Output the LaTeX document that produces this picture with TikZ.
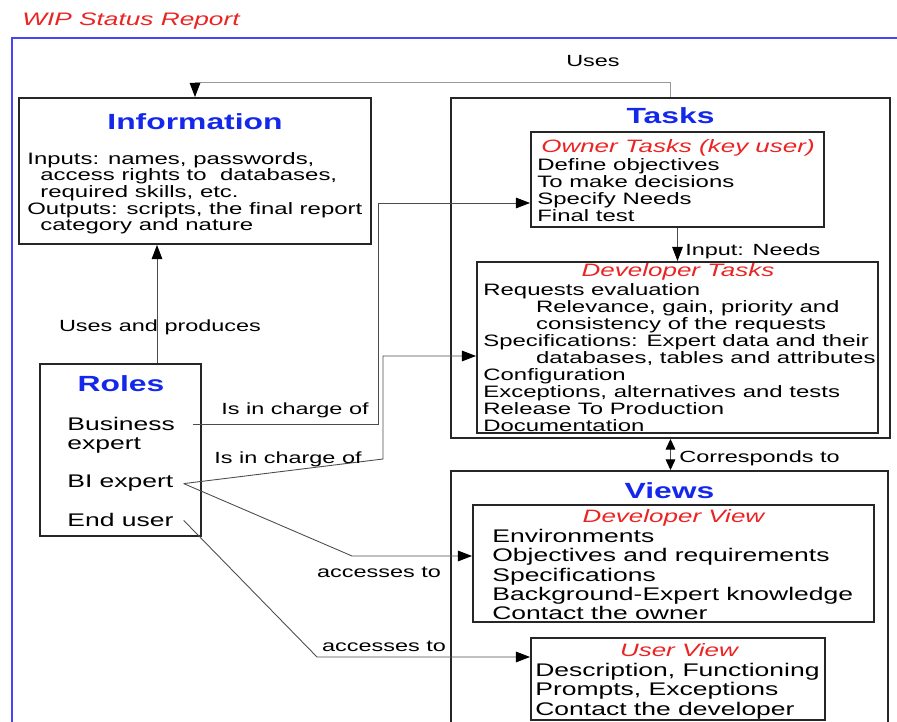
\documentclass[tikz,border=0pt]{standalone}
\usepackage{fontspec}
\setmainfont{Liberation Sans}[FakeStretch=1.45]
\usetikzlibrary{arrows.meta,positioning,fit,calc}

\definecolor{wipred}{RGB}{235,35,35}
\definecolor{headblue}{RGB}{20,40,235}
\definecolor{frameblue}{RGB}{70,70,245}

\begin{document}
\begin{tikzpicture}[
    x=0.02cm, y=-0.02cm,
    box/.style={draw=black!85, line width=1.1pt, inner sep=0pt},
    heading/.style={font=\fontsize{12.5}{14}\selectfont\bfseries, text=headblue, anchor=base, inner sep=0pt},
    subhead/.style={font=\fontsize{10.2}{12}\selectfont\itshape, text=wipred, anchor=base, inner sep=0pt},
    body/.style={font=\fontsize{9.4}{9.7}\selectfont, align=left, anchor=north west, inner sep=0pt},
    bigbody/.style={font=\fontsize{10.4}{10.95}\selectfont, align=left, anchor=north west, inner sep=0pt},
    linklabel/.style={font=\fontsize{9.2}{11}\selectfont, anchor=base, inner sep=0pt},
    edge/.style={draw=black!70, line width=0.5pt, -{Triangle[length=8pt, width=6pt, color=black]}},
]
\useasboundingbox (0,0) rectangle (897,722);

% Title and frame
\node[font=\fontsize{10.3}{12}\selectfont\itshape, text=wipred, anchor=base west, inner sep=0pt] (title) at (22,26) {WIP Status Report};
\draw[frameblue, line width=0.9pt] (12,38) rectangle (910,735);

% Information
\node[box, fit={(19,98) (371,244)}] (info) {};
\node[heading] (infohead) at (195,130) {Information};
\node[body, font=\fontsize{9.4}{9.45}\selectfont] (infotext) at (27,152) {Inputs: names, passwords,\\
  \hspace*{7.4pt}access rights to\ \ databases,\\
  \hspace*{7.4pt}required skills, etc.\\
  Outputs: scripts, the final report\\
  \hspace*{7.4pt}category and nature};

% Tasks
\node[box, fit={(451,98) (890,438)}] (tasks) {};
\node[heading] (taskshead) at (670.5,124) {Tasks};
\node[box, fit={(531,132) (824,227)}] (owner) {};
\node[subhead] (ownerhead) at (678,153) {Owner Tasks (key user)};
\node[body] (ownertext) at (537,158) {Define objectives\\To make decisions\\Specify Needs\\Final test};
\node[box, fit={(477,262) (878,433)}] (dtasks) {};
\node[subhead] (dtaskshead) at (678,277) {Developer Tasks};
\node[body] (dtaskstext) at (483,283) {Requests evaluation\\
  \hspace*{30pt}Relevance, gain, priority and\\
  \hspace*{30pt}consistency of the requests\\
  Specifications: Expert data and their\\
  \hspace*{30pt}databases, tables and attributes\\
  Configuration\\
  Exceptions, alternatives and tests\\
  Release To Production\\
  Documentation};

% Views
\node[box, fit={(451,471) (888,740)}] (views) {};
\node[heading] (viewshead) at (669.5,499) {Views};
\node[box, fit={(473,505) (874,622)}] (dview) {};
\node[subhead] (dviewhead) at (673.5,523) {Developer View};
\node[bigbody] (dviewtext) at (492,529) {Environments\\Objectives and requirements\\Specifications\\Background-Expert knowledge\\Contact the owner};
\node[box, fit={(531,638) (825,720)}] (uview) {};
\node[subhead] (uviewhead) at (679,657) {User View};
\node[bigbody] (uviewtext) at (535,663) {Description, Functioning\\Prompts, Exceptions\\Contact the developer};

% Roles
\node[box, fit={(40,364) (201,536)}] (roles) {};
\node[heading] (roleshead) at (121,392) {Roles};
\node[bigbody] (business) at (67,417) {Business\\expert};
\node[bigbody, anchor=base west] (bi) at (67,488) {BI expert};
\node[bigbody, anchor=base west] (enduser) at (67,527) {End user};

% Connectors
\draw[edge, draw=black!40] (tasks.north) -- ++(0,-15) -| (info.north);
\node[linklabel] (useslbl) at (593,67) {Uses};

\coordinate (rup) at ($(roles.north)+(36.5,0)$);
\draw[edge] (rup) -- (rup |- info.south);
\node[linklabel] (produceslbl) at (160,332) {Uses and produces};

\coordinate (bturn) at (378,424);
\draw[edge] ($(bturn -| business.east)+(18,0)$) -- (bturn) |- ($(owner.west)+(0,23.5)$);
\node[linklabel] (chargelbla) at (295,415) {Is in charge of};

\coordinate (bdturn) at (383,459);
\draw[edge] ($(bi.east)+(10,0)$) -- (bdturn) |- ($(dtasks.west)+(0,8.5)$);
\node[linklabel] (chargelblb) at (288,463.5) {Is in charge of};

\coordinate (bvturn) at (352,556);
\draw[edge] ($(bi.east)+(10,0)$) -- (bvturn) -- (bvturn -| dview.west);
\node[linklabel] (accesslbla) at (379,578) {accesses to};

\coordinate (euturn) at (317,657);
\draw[edge] ($(enduser.east)+(10,0)$) -- (euturn) -- (euturn -| uview.west);
\node[linklabel] (accesslblb) at (384,651.5) {accesses to};

\draw[edge] (owner.south) -- (owner.south |- dtasks.north);
\node[linklabel, anchor=base west] (needslbl) at (685,256) {Input: Needs};

\draw[edge, {Triangle[length=6pt, width=5.5pt, color=black]}-{Triangle[length=6pt, width=5.5pt, color=black]}] (tasks.south) -- (tasks.south |- views.north);
\node[linklabel, anchor=base west] (corrlbl) at (679,462.5) {Corresponds to};

\end{tikzpicture}
\end{document}
